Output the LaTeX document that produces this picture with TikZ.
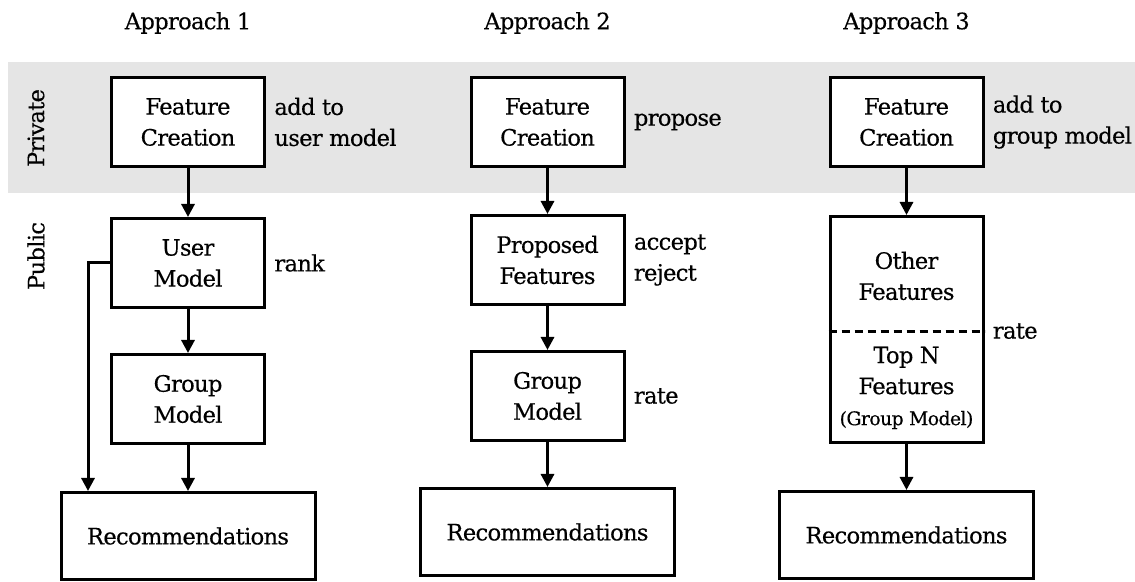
\documentclass[tikz,border=0pt]{standalone}
\usepackage{fontspec}
\setmainfont{DejaVu Serif}[LetterSpace=-3, FakeBold=0.4]
\usetikzlibrary{arrows.meta,positioning,calc,backgrounds}

\begin{document}
\begin{tikzpicture}[
  x=0.5pt, y=-0.5pt,
  font=\fontsize{11.3}{15.5}\selectfont,
  >={Triangle[length=6.5pt,width=6.5pt]},
  block/.style={
    rectangle, draw=black, line width=1.5pt, fill=white,
    minimum width=76.5pt, minimum height=44.5pt, align=center,
    inner sep=0pt},
  recbox/.style={block, minimum width=127pt, minimum height=43.5pt},
  edge/.style={->, line width=1.5pt, draw=black},
  lbl/.style={align=left, inner sep=0pt},
  side/.style={rotate=90, inner sep=0pt},
]
\useasboundingbox (0,0) rectangle (1135,582);

% ---- Private band ----
\fill[black!10] (8,62) rectangle (1135,193);
\node[side] (priv) at (36,128) {Private};
\node[side] (pub) at (36,256) {Public};

% ---- Titles ----
\node (t1) at (188,23) {Approach 1};
\node (t2) at (547.5,23) {Approach 2};
\node (t3) at (906.5,23) {Approach 3};

% ---- Approach 1 ----
\node[block] (fc1) at (188,122) {Feature\\Creation};
\node[block, below=24.5pt of fc1] (um1) {User\\Model};
\node[block, below=22pt of um1] (gm1) {Group\\Model};
\node[recbox, below=23pt of gm1] (rec1) {Recommendations};
\node[lbl, right=4pt of fc1] (l1a) {add to\\user model};
\node[lbl, right=4pt of um1] (l1b) {rank};

\draw[edge] (fc1) -- (um1);
\draw[edge] (um1) -- (gm1);
\draw[edge] (gm1) -- (rec1);
\coordinate (tap) at ([xshift=-11pt]um1.west);
\draw[edge] (um1.west) -- (tap) -- (tap |- rec1.north);

% ---- Approach 2 ----
\node[block] (fc2) at (547.5,122) {Feature\\Creation};
\node[block, below=23pt of fc2] (pf2) {Proposed\\Features};
\node[block, below=22pt of pf2] (gm2) {Group\\Model};
\node[recbox, below=22.5pt of gm2] (rec2) {Recommendations};
\node[lbl, right=4pt of fc2] (l2a) {propose};
\node[lbl, right=4pt of pf2] (l2b) {accept\\reject};
\node[lbl, right=4pt of gm2] (l2c) {rate};

\draw[edge] (fc2) -- (pf2);
\draw[edge] (pf2) -- (gm2);
\draw[edge] (gm2) -- (rec2);

% ---- Approach 3 ----
\node[block] (fc3) at (906.5,122) {Feature\\Creation};
\node[block, below=23.5pt of fc3, minimum height=113pt] (feat) {};
\node[recbox, below=23pt of feat] (rec3) {Recommendations};
\coordinate (cut) at ($(feat.north)!0.507!(feat.south)$);
\coordinate (cutW) at (feat.west |- cut);
\coordinate (cutE) at (feat.east |- cut);
\draw[line width=1.5pt, dash pattern=on 4pt off 2.5pt] (cutW) -- (cutE);
\node[inner sep=0pt, align=center] (other) at ($(feat.north)!0.266!(feat.south)$)
  {Other\\Features};
\node[inner sep=0pt, align=center] (topn) at ($(feat.north)!0.755!(feat.south)$)
  {Top N\\Features\\{\fontsize{9.4}{12}\selectfont (Group Model)}};
\node[lbl, right=4pt of fc3] (l3a) {add to\\group model};
\node[lbl, right=4pt of cutE] (l3b) {rate};

\draw[edge] (fc3) -- (feat);
\draw[edge] (feat) -- (rec3);

\end{tikzpicture}
\end{document}
